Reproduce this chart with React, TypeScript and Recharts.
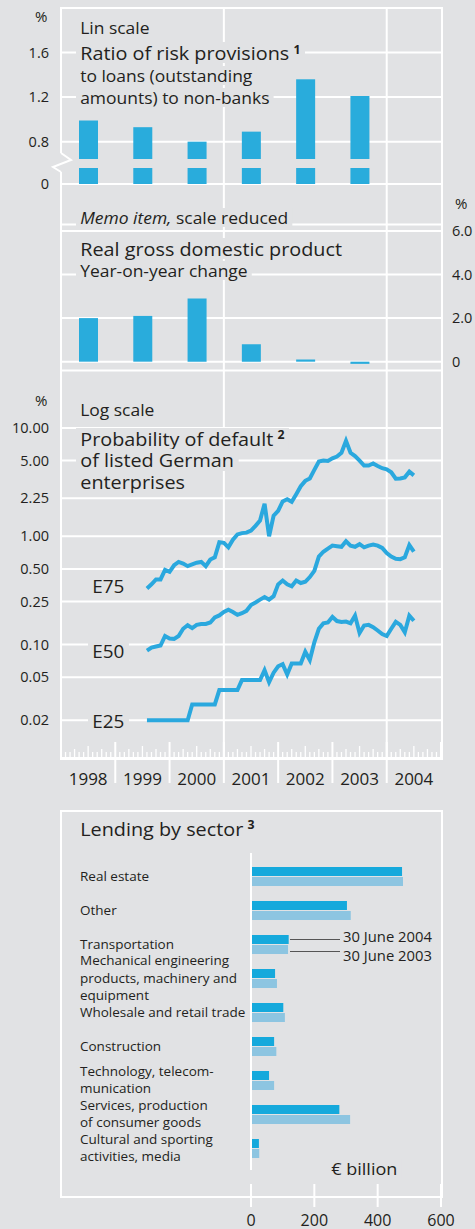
import React from 'react';
import { BarChart, Bar, XAxis, YAxis, CartesianGrid, LineChart, Line, ReferenceLine } from 'recharts';

const BG = '#e1e2e4';
const BLUE = '#29acdc';
const LINE_BLUE = '#2aa8de';
const DARK_BAR = '#15a9dc';
const LIGHT_BAR = '#8dc5e1';
const TEXT = '#231f20';
const FONT = '"Open Sans", "Noto Sans", sans-serif';

// ---- Top panels (annual) ----
const years = ['1998', '1999', '2000', '2001', '2002', '2003', '2004'];
const riskRatio = [0.99, 0.93, 0.8, 0.89, 1.36, 1.21, null];
const gdpGrowth = [2.0, 2.1, 2.9, 0.8, 0.1, -0.1, null];
const riskTicks = [0.42, 0.8, 1.2, 1.6];
const riskTickLabels = ['0', '0.8', '1.2', '1.6'];
const gdpTicks = [0, 2, 4, 6];
const gdpTickLabels = ['0', '2.0', '4.0', '6.0'];

// ---- Probability of default (monthly, months since Jan 1998) ----
const pdStartMonth = 19;
const e75 = [
  0.33, 0.36, 0.40, 0.40, 0.49, 0.47, 0.54, 0.58, 0.56, 0.53, 0.55, 0.57,
  0.58, 0.53, 0.61, 0.64, 0.88, 0.87, 0.79, 0.93, 1.04, 1.07, 1.08, 1.13,
  1.25, 1.40, 2.00, 1.00, 1.55, 1.72, 2.10, 2.20, 2.08, 2.45, 2.90, 3.25,
  3.42, 4.10, 4.90, 5.00, 4.95, 5.25, 5.45, 5.90, 7.60, 5.90, 5.50, 5.00,
  4.50, 4.50, 4.70, 4.45, 4.25, 4.15, 3.90, 3.40, 3.42, 3.50, 3.95, 3.65,
];
const e50 = [
  0.088, 0.094, 0.096, 0.098, 0.120, 0.114, 0.113, 0.120, 0.140, 0.151, 0.142, 0.152,
  0.155, 0.155, 0.160, 0.178, 0.186, 0.200, 0.210, 0.200, 0.188, 0.195, 0.205, 0.232,
  0.245, 0.260, 0.275, 0.260, 0.280, 0.360, 0.390, 0.360, 0.345, 0.390, 0.370, 0.380,
  0.420, 0.480, 0.650, 0.720, 0.770, 0.820, 0.810, 0.800, 0.900, 0.820, 0.800, 0.845,
  0.790, 0.820, 0.840, 0.820, 0.780, 0.700, 0.650, 0.620, 0.615, 0.640, 0.830, 0.720,
];
const e25 = [
  0.02, 0.02, 0.02, 0.02, 0.02, 0.02, 0.02, 0.02, 0.02, 0.02, 0.028, 0.028,
  0.028, 0.028, 0.028, 0.028, 0.038, 0.038, 0.038, 0.038, 0.038, 0.047, 0.047, 0.047,
  0.047, 0.047, 0.058, 0.045, 0.055, 0.063, 0.066, 0.053, 0.067, 0.067, 0.067, 0.086,
  0.072, 0.105, 0.140, 0.157, 0.160, 0.180, 0.165, 0.162, 0.163, 0.157, 0.185, 0.128,
  0.150, 0.152, 0.145, 0.135, 0.125, 0.120, 0.140, 0.162, 0.152, 0.130, 0.185, 0.166,
];
const logTicks = [0.02, 0.05, 0.1, 0.25, 0.5, 1, 2.25, 5, 10];
const logTickLabels = ['0.02', '0.05', '0.10', '0.25', '0.50', '1.00', '2.25', '5.00', '10.00'];
const monthCount = 84;
const monthTicks = Array.from({ length: monthCount + 1 }, (_, i) => i);
const yearLabels = ['1998', '1999', '2000', '2001', '2002', '2003', '2004'];

// ---- Lending by sector ----
const sectors = [
  'Real estate',
  'Other',
  'Transportation',
  'Mechanical engineering\nproducts, machinery and\nequipment',
  'Wholesale and retail trade',
  'Construction',
  'Technology, telecom-\nmunication',
  'Services, production\nof consumer goods',
  'Cultural and sporting\nactivities, media',
];
const lending2004 = [477, 303, 119, 76, 102, 73, 57, 279, 25];
const lending2003 = [480, 315, 117, 82, 107, 80, 73, 313, 26];
const lendingTicks = [0, 200, 400, 600];

const annualData = years.map((y, i) => ({ year: y, risk: riskRatio[i], gdp: gdpGrowth[i] }));
const pdData = e75.map((v, i) => ({ m: pdStartMonth + i, e75: v, e50: e50[i], e25: e25[i] }));
const lendingData = sectors.map((s, i) => ({ name: s, v2004: lending2004[i], v2003: lending2003[i] }));

const tickStyle = { fontSize: 14.5, fill: TEXT, fontFamily: FONT };

const BrokenBar = (props: any) => {
  const { x, y, width, height, fill } = props;
  if (height == null || !(height > 0)) return null;
  const base = y + height;
  return (
    <g>
      <rect x={x} y={y} width={width} height={Math.max(0, height - 25)} fill={fill} />
      <rect x={x} y={base - 16} width={width} height={16} fill={fill} />
    </g>
  );
};

const MonthTick = (props: any) => {
  const { x, y, payload } = props;
  const m = payload.value as number;
  const r = m % 12;
  const len = r === 0 ? 16 : r === 6 ? 12 : r % 3 === 0 ? 9 : 6;
  const sep = r === 0 && m > 0 && m < monthCount;
  return (
    <g>
      <line x1={x} x2={x} y1={y - len} y2={sep ? y + 25 : y} stroke="#fff" strokeWidth={r === 0 ? 2 : 1.3} />
      {r === 6 && (
        <text x={x} y={y + 20} textAnchor="middle" dominantBaseline="central" fontSize={17} fill={TEXT} fontFamily={FONT}>
          {yearLabels[(m - 6) / 12]}
        </text>
      )}
    </g>
  );
};

const SectorTick = (props: any) => {
  const { y, payload } = props;
  const lines = String(payload.value).split('\n');
  const lh = 17.3;
  const y0 = y - ((lines.length - 1) * lh) / 2;
  return (
    <text x={80} y={y0} fontSize={13.5} fill={TEXT} fontFamily={FONT} textAnchor="start">
      {lines.map((l, i) => (
        <tspan key={i} x={80} y={y0 + i * lh} dy="0.35em">{l}</tspan>
      ))}
    </text>
  );
};

const LendTick = (props: any) => {
  const { x, y, payload } = props;
  return (
    <g>
      <line x1={x} x2={x} y1={y + 14} y2={y + 37} stroke="#fff" strokeWidth={2} />
      <text x={x} y={y + 49.5} textAnchor="middle" dominantBaseline="central" fontSize={16} fill={TEXT} fontFamily={FONT}>
        {payload.value}
      </text>
    </g>
  );
};

function Txt({ x, cy, size, children, pad = 4, bg = true, sx = 1, lhf = 1.14, style = {} }: any) {
  const lh = Math.round(size * lhf);
  return (
    <div
      style={{
        position: 'absolute', left: x - pad * sx, top: cy - lh / 2, fontSize: size, lineHeight: lh + 'px',
        padding: `0 ${pad}px`, background: bg ? BG : 'transparent', color: TEXT, whiteSpace: 'nowrap',
        fontFamily: FONT, transform: `scaleX(${sx})`, transformOrigin: 'left center', ...style,
      }}
    >
      {children}
    </div>
  );
}

// multi-line block: each line gets its own background strip
function Block({ x, top, size, lh, sx = 1, lines }: any) {
  return (
    <div
      style={{
        position: 'absolute', left: x - 4 * sx, top, fontSize: size, lineHeight: lh + 'px', color: TEXT,
        whiteSpace: 'nowrap', fontFamily: FONT, transform: `scaleX(${sx})`, transformOrigin: 'left top',
      }}
    >
      {lines.map((l: any, i: number) => (
        <div key={i} style={{ height: lh }}>
          <span style={{ background: BG, padding: '0 4px', display: 'inline-block', height: lh }}>{l}</span>
        </div>
      ))}
    </div>
  );
}

const Sup = ({ n }: any) => (
  <span style={{ fontSize: '0.62em', fontWeight: 700, position: 'relative', top: '-0.55em', marginLeft: 4, lineHeight: 0 }}>{n}</span>
);

const BIG = 18.5;
const BIG_SX = 1.07;
const SMALL = 16.8;
const SMALL_SX = 1.04;

export default function App() {
  return (
    <div style={{ position: 'absolute', left: 0, top: 0, width: 475, height: 1229, background: BG, overflow: 'hidden', fontFamily: FONT }}>
      {/* frame of upper charts */}
      <div style={{ position: 'absolute', left: 60, top: 7, width: 383, height: 753, border: '2px solid #fff', boxSizing: 'border-box' }} />

      {/* Log-scale chart (also carries full-height vertical year lines) */}
      <div style={{ position: 'absolute', left: 0, top: 0 }}>
        <LineChart width={475} height={800} data={pdData} margin={{ top: 8, right: 34, bottom: 0, left: 0 }}>
          <CartesianGrid horizontal vertical={false} stroke="#fff" strokeWidth={2} />
          <XAxis dataKey="m" type="number" domain={[0, monthCount]} ticks={monthTicks} interval={0}
            tick={<MonthTick />} tickSize={0} tickMargin={0} tickLine={false} axisLine={false} height={42} />
          <YAxis scale="log" domain={[0.00897, 75500]} allowDataOverflow ticks={logTicks} width={61}
            tickSize={0} tickMargin={12} tickLine={false} axisLine={false} tick={tickStyle}
            tickFormatter={(v: number) => logTickLabels[logTicks.indexOf(v)] ?? ''} />
          <ReferenceLine x={36} stroke="#fff" strokeWidth={2} />
          <ReferenceLine x={72} stroke="#fff" strokeWidth={2} />
          <Line dataKey="e75" stroke={LINE_BLUE} strokeWidth={4} dot={false} isAnimationActive={false} />
          <Line dataKey="e50" stroke={LINE_BLUE} strokeWidth={4} dot={false} isAnimationActive={false} />
          <Line dataKey="e25" stroke={LINE_BLUE} strokeWidth={4} dot={false} isAnimationActive={false} />
        </LineChart>
      </div>

      {/* Ratio of risk provisions */}
      <div style={{ position: 'absolute', left: 0, top: 0 }}>
        <BarChart width={475} height={200} data={annualData} margin={{ top: 8, right: 34, bottom: 16, left: 0 }}>
          <CartesianGrid horizontal vertical={false} stroke="#fff" strokeWidth={2} />
          <XAxis dataKey="year" hide />
          <YAxis domain={[0.42, 2.0]} ticks={riskTicks} width={61} tickSize={0} tickMargin={12}
            tickLine={false} axisLine={false} tick={tickStyle}
            tickFormatter={(v: number) => riskTickLabels[riskTicks.indexOf(v)] ?? ''} />
          <Bar dataKey="risk" fill={BLUE} barSize={19} shape={<BrokenBar />} isAnimationActive={false} />
        </BarChart>
      </div>

      {/* GDP */}
      <div style={{ position: 'absolute', left: 0, top: 200 }}>
        <BarChart width={475} height={190} data={annualData} margin={{ top: 24.4, right: 0, bottom: 19.6, left: 61 }}>
          <CartesianGrid horizontal vertical={false} stroke="#fff" strokeWidth={2} />
          <XAxis dataKey="year" hide />
          <YAxis orientation="right" domain={[-0.4, 6.3]} ticks={gdpTicks} width={34} tickSize={0} tickMargin={11}
            tickLine={false} axisLine={false} tick={tickStyle}
            tickFormatter={(v: number) => gdpTickLabels[gdpTicks.indexOf(v)] ?? ''} />
          <Bar dataKey="gdp" fill={BLUE} barSize={19} isAnimationActive={false} />
        </BarChart>
      </div>

      {/* axis break glyph */}
      <svg style={{ position: 'absolute', left: 0, top: 0 }} width={80} height={190}>
        <rect x={58} y={153} width={6} height={19} fill={BG} />
        <polyline points="61,153 71,160 53,167 61,172" fill="none" stroke="#fff" strokeWidth={2} />
      </svg>

      {/* Lending by sector */}
      <div style={{ position: 'absolute', left: 60, top: 810, width: 383, height: 388, border: '2px solid #fff', boxSizing: 'border-box' }} />
      <div style={{ position: 'absolute', left: 0, top: 800 }}>
        <BarChart width={475} height={429} data={lendingData} layout="vertical" barGap={1}
          margin={{ top: 53, right: 34, bottom: 0, left: 0 }}>
          <XAxis type="number" domain={[0, 600]} ticks={lendingTicks} tick={<LendTick />} tickSize={0} tickMargin={0}
            tickLine={false} axisLine={false} height={59} interval={0} />
          <YAxis type="category" dataKey="name" width={251} tick={<SectorTick />} tickSize={0} tickLine={false}
            axisLine={{ stroke: '#fff', strokeWidth: 2 }} padding={{ top: 6, bottom: 5 }} interval={0} />
          <Bar dataKey="v2004" fill={DARK_BAR} barSize={9} isAnimationActive={false} />
          <Bar dataKey="v2003" fill={LIGHT_BAR} barSize={9} isAnimationActive={false} />
        </BarChart>
      </div>

      {/* Text overlays */}
      <Txt x={35} cy={16} size={15} bg={false}>%</Txt>
      <Txt x={80} cy={27} size={SMALL} sx={SMALL_SX}>Lin scale</Txt>
      <Txt x={80} cy={52.7} size={BIG} sx={BIG_SX}>Ratio of risk provisions<Sup n="1" /></Txt>
      <Txt x={80} cy={75} size={SMALL} sx={SMALL_SX}>to loans (outstanding</Txt>
      <Txt x={80} cy={97.3} size={SMALL} sx={SMALL_SX}>amounts) to non-banks</Txt>

      <Txt x={455} cy={203} size={15} bg={false}>%</Txt>
      <Txt x={80} cy={217.3} size={SMALL} sx={SMALL_SX}><i>Memo item,</i> scale reduced</Txt>
      <Txt x={80} cy={248.3} size={BIG} sx={BIG_SX}>Real gross domestic product</Txt>
      <Txt x={80} cy={270} size={SMALL} sx={SMALL_SX}>Year-on-year change</Txt>

      <Txt x={35} cy={400.7} size={15} bg={false}>%</Txt>
      <Txt x={80} cy={409.3} size={SMALL} sx={SMALL_SX}>Log scale</Txt>
      <Block x={80} top={427.5} size={BIG} lh={21.7} sx={BIG_SX}
        lines={[<>Probability of default<Sup n="2" /></>, 'of listed German', 'enterprises']} />
      <Txt x={92} cy={586.7} size={18} sx={1.05}>E75</Txt>
      <Txt x={92} cy={651.7} size={18} sx={1.05}>E50</Txt>
      <Txt x={92} cy={721.7} size={18} sx={1.05}>E25</Txt>

      <Txt x={80} cy={828} size={BIG} sx={BIG_SX}>Lending by sector<Sup n="3" /></Txt>
      <Txt x={331} cy={1168} size={17} sx={1.06}>€ billion</Txt>
      <div style={{ position: 'absolute', left: 290, top: 939, width: 50, height: 1, background: '#555' }} />
      <div style={{ position: 'absolute', left: 290, top: 951, width: 50, height: 1, background: '#555' }} />
      <Txt x={343} cy={936.7} size={14.8} bg={false}>30 June 2004</Txt>
      <Txt x={343} cy={955} size={14.8} bg={false}>30 June 2003</Txt>
    </div>
  );
}
